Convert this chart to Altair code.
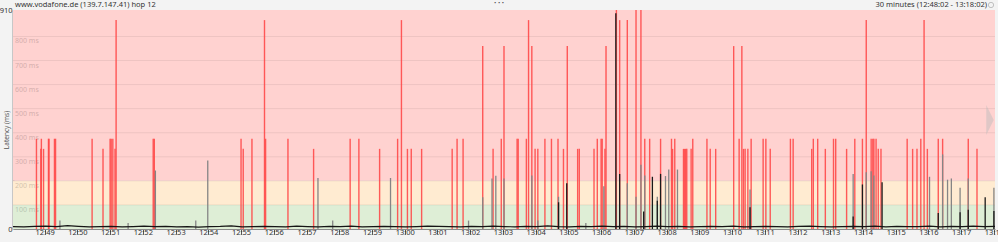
import altair as alt
import pandas as pd

TITLE_LEFT = "www.vodafone.de (139.7.147.41) hop 12"
TITLE_RIGHT = "30 minutes (12:48:02 - 13:18:02)"
Y_TITLE = "Latency (ms)"

# time axis: seconds since 12:48:02 (window of 30 minutes)
T_START, T_END = 0, 1800
Y_MAX = 910

# packet-loss markers (red): time (s) and height (ms)
loss_t = [43, 51, 52, 56, 65, 66, 76, 78, 145, 165,
          178, 180, 183, 187, 189, 257, 259, 418, 422, 438,
          461, 463, 504, 551, 618, 634, 672, 705, 712, 723,
          730, 749, 805, 814, 825, 861, 880, 895, 900, 924,
          926, 941, 945, 951, 957, 962, 975, 987, 999, 1009,
          1016, 1035, 1038, 1065, 1071, 1078, 1080, 1085, 1087, 1106,
          1112, 1126, 1142, 1151, 1158, 1167, 1187, 1207, 1209, 1213,
          1229, 1231, 1233, 1235, 1243, 1246, 1272, 1278, 1288, 1321,
          1331, 1336, 1339, 1342, 1347, 1353, 1375, 1380, 1388, 1425,
          1430, 1464, 1467, 1475, 1489, 1504, 1508, 1528, 1543, 1557,
          1564, 1573, 1576, 1578, 1582, 1586, 1591, 1639, 1649, 1657,
          1664, 1670, 1676, 1696, 1704, 1751, 1767]
loss_ms = [375, 333, 375, 333, 375, 375, 375, 375, 375, 333,
           375, 375, 375, 333, 868, 375, 375, 375, 333, 375,
           868, 375, 375, 333, 375, 375, 333, 375, 868, 333,
           333, 333, 333, 375, 375, 760, 333, 375, 760, 375,
           375, 375, 868, 760, 333, 333, 375, 375, 375, 333,
           760, 333, 333, 333, 375, 375, 375, 333, 760, 910,
           868, 868, 910, 910, 375, 375, 375, 375, 333, 375,
           333, 333, 333, 333, 333, 375, 375, 333, 333, 760,
           375, 760, 333, 333, 333, 375, 375, 375, 333, 375,
           375, 333, 375, 375, 333, 375, 375, 333, 375, 375,
           868, 375, 375, 375, 375, 333, 333, 375, 333, 333,
           375, 868, 333, 375, 375, 375, 333]

# latency spikes: time (s), height (ms), shade (g = grey, k = black)
spike_t = [86, 211, 261, 335, 357, 559, 586, 692, 835, 861,
           878, 885, 900, 951, 962, 1000, 1000, 1015, 1050, 1083,
           1105, 1112, 1126, 1142, 1151, 1158, 1156, 1172, 1181, 1181,
           1187, 1196, 1202, 1218, 1351, 1351, 1540, 1540, 1557, 1564,
           1573, 1578, 1593, 1680, 1696, 1704, 1713, 1720, 1736, 1736,
           1751, 1751, 1782, 1798, 1798]
spike_ms = [35, 25, 243, 35, 285, 212, 35, 212, 35, 132,
            210, 221, 210, 222, 35, 134, 111, 190, 25, 178,
            896, 229, 190, 134, 267, 222, 73, 217, 134, 117,
            229, 220, 247, 247, 164, 90, 229, 52, 185, 236,
            240, 222, 194, 217, 67, 310, 205, 210, 171, 70,
            210, 80, 132, 171, 75]
spike_shade = ["g", "g", "g", "g", "g", "g", "g", "g", "g", "g",
               "g", "g", "g", "g", "g", "g", "k", "k", "g", "g",
               "k", "k", "g", "g", "g", "g", "k", "k", "g", "k",
               "k", "g", "g", "g", "g", "k", "g", "k", "k", "g",
               "g", "g", "k", "g", "k", "g", "g", "g", "g", "k",
               "g", "k", "k", "g", "k"]

# baseline latency samples (ms), evenly spaced over the window
base_ms = [10, 9, 11, 12, 10, 14, 11, 9, 10, 11, 9, 10, 12, 10, 11, 9, 10, 8, 10, 11,
           13, 9, 10, 11, 10, 9, 12, 10, 9, 11, 10, 12, 9, 10, 11, 10, 9, 10, 12, 11,
           10, 9, 11, 10, 12, 10, 9, 11, 10, 13, 10, 9, 11, 10, 12, 10, 11, 9, 10, 12,
           10, 11, 9, 10, 11, 10, 12, 9, 10, 11, 10, 9, 11, 12, 10, 9, 10, 11, 10, 12,
           9, 11, 10, 10, 12, 9, 11, 10, 12, 10, 11]

band_lo = [0, 100, 200]
band_hi = [100, 200, 910]
band_color = ["#deeed6", "#ffebd1", "#ffd2d0"]

grid_ms = [100, 200, 300, 400, 500, 600, 700, 800]
tick_t = list(range(58, 1800, 60))   # whole minutes 12:49 .. 13:18

W, H = 982, 219

loss_df = pd.DataFrame({"t": loss_t, "ms": loss_ms})
spike_df = pd.DataFrame({"t": spike_t, "ms": spike_ms, "shade": spike_shade})
n = len(base_ms)
base_df = pd.DataFrame({"t": [i * (T_END - T_START) / (n - 1) for i in range(n)], "ms": base_ms})
band_df = pd.DataFrame({"lo": band_lo, "hi": band_hi, "c": band_color})
grid_df = pd.DataFrame({"ms": grid_ms, "label": [f"{g} ms" for g in grid_ms]})

xs = alt.Scale(domain=[T_START, T_END], nice=False, zero=False)
ys = alt.Scale(domain=[0, Y_MAX], nice=False)
FONT = "Noto Sans"

label_expr = (
    "(12 + floor((48 + round((datum.value + 2) / 60)) / 60)) + ':' + "
    "(((48 + round((datum.value + 2) / 60)) % 60) < 10 ? '0' : '') + "
    "((48 + round((datum.value + 2) / 60)) % 60)"
)

AX_X = alt.Axis(
    values=tick_t, labelExpr=label_expr, title=None, grid=False,
    labelFontSize=7.5, labelFont=FONT, labelColor="#333333",
    tickSize=5, tickColor="#555555", labelPadding=-6,
    domainColor="#8a8a8a", labelFlush=False)
AX_Y = alt.Axis(
    values=[0, Y_MAX], title=Y_TITLE, grid=False, ticks=False,
    labelFontSize=7.5, labelFont=FONT, labelColor="#333333", labelPadding=1,
    domainColor="#9a9a9a", domainWidth=2,
    titleFontSize=6.5, titleFont=FONT, titleFontWeight="normal", titleColor="#555555",
    titleX=-7, titleY=H / 2 + 10, titleAngle=-90, titleAlign="center", titleBaseline="middle")

bands = alt.Chart(band_df).mark_rect().encode(
    x=alt.value(0), x2=alt.value(W),
    y=alt.Y("lo:Q", scale=ys, axis=AX_Y, title=Y_TITLE), y2="hi:Q",
    color=alt.Color("c:N", scale=None, legend=None),
)

grid = alt.Chart(grid_df).mark_rule(color="#000000", opacity=0.07, strokeWidth=1).encode(
    x=alt.value(0), x2=alt.value(W),
    y=alt.Y("ms:Q", scale=ys, axis=AX_Y, title=Y_TITLE),
)

grid_labels = alt.Chart(grid_df).mark_text(
    align="left", baseline="top", dx=2, dy=1, fontSize=7, font=FONT, color="#000000", opacity=0.18
).encode(
    x=alt.value(0),
    y=alt.Y("ms:Q", scale=ys, axis=AX_Y, title=Y_TITLE),
    text="label:N",
)

loss = alt.Chart(loss_df).mark_rule(color="#ff4545", strokeWidth=1.4, opacity=0.88, clip=True).encode(
    x=alt.X("t:Q", scale=xs, axis=AX_X, title=None),
    y=alt.Y("ms:Q", scale=ys, axis=AX_Y, title=Y_TITLE),
    y2=alt.datum(0),
)

spikes = alt.Chart(spike_df).mark_rule(strokeWidth=1.3, clip=True).encode(
    x=alt.X("t:Q", scale=xs, axis=AX_X, title=None),
    y=alt.Y("ms:Q", scale=ys, axis=AX_Y, title=Y_TITLE),
    y2=alt.datum(0),
    color=alt.Color("shade:N", scale=alt.Scale(domain=["g", "k"], range=["#858585", "#1a1a1a"]), legend=None),
)

base = alt.Chart(base_df).mark_line(color="#151515", strokeWidth=1.2, clip=True).encode(
    x=alt.X("t:Q", scale=xs, axis=AX_X, title=None),
    y=alt.Y("ms:Q", scale=ys, axis=AX_Y, title=Y_TITLE),
)

hdr = pd.DataFrame({"a": [0]})
title_left = alt.Chart(hdr).mark_text(
    align="left", baseline="middle", fontSize=7.5, font=FONT, color="#333333"
).encode(x=alt.value(2), y=alt.value(-5), text=alt.value(TITLE_LEFT))
title_right = alt.Chart(hdr).mark_text(
    align="right", baseline="middle", fontSize=7.5, font=FONT, color="#333333"
).encode(x=alt.value(974), y=alt.value(-5), text=alt.value(TITLE_RIGHT))
icon = alt.Chart(hdr).mark_point(shape="circle", size=28, color="#999999", strokeWidth=0.8).encode(
    x=alt.value(978), y=alt.value(-5))
dots = alt.Chart(hdr).mark_text(
    align="center", baseline="middle", fontSize=6, font=FONT, color="#555555"
).encode(x=alt.value(486), y=alt.value(-7), text=alt.value("• • •"))
arrow = alt.Chart(hdr).mark_point(
    shape="M-0.25,-1L0.25,0L-0.25,1Z", size=900, filled=True, color="#bbbbbb", opacity=0.45
).encode(x=alt.value(977), y=alt.value(110))

chart = alt.layer(
    bands, grid, grid_labels, loss, spikes, base, arrow, title_left, title_right, icon, dots
).properties(
    width=W, height=H,
    autosize=alt.AutoSizeParams(type="none"),
    padding={"left": 13, "top": 10, "right": 3, "bottom": 13},
    background="#f3f3f3",
).configure_view(stroke=None)

chart.save("out.html", embed_options={"renderer": "svg", "actions": False})
